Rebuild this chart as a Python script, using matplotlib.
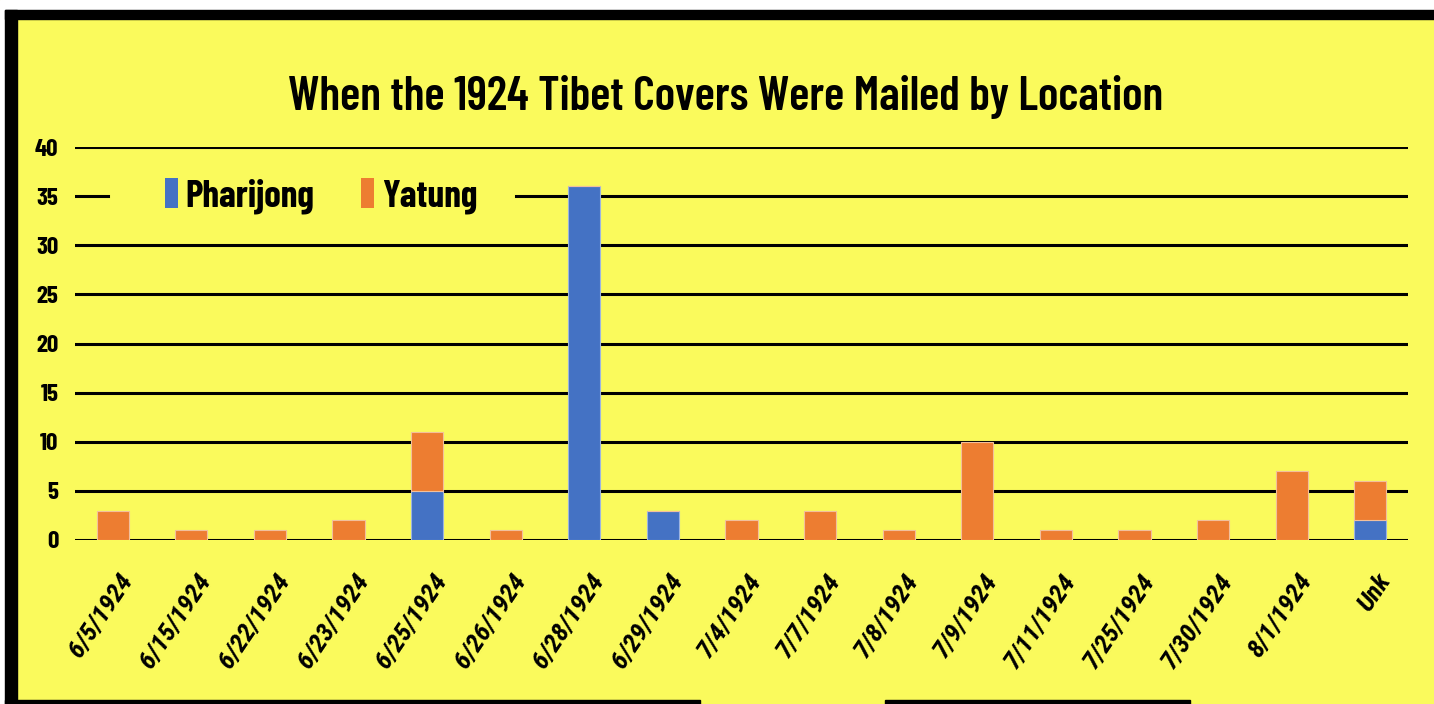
import matplotlib
matplotlib.use("Agg")
import matplotlib.pyplot as plt
import matplotlib.transforms as mtransforms
from matplotlib.patches import Rectangle
import numpy as np

# data
dates = ["6/5/1924", "6/15/1924", "6/22/1924", "6/23/1924", "6/25/1924", "6/26/1924",
         "6/28/1924", "6/29/1924", "7/4/1924", "7/7/1924", "7/8/1924", "7/9/1924",
         "7/11/1924", "7/25/1924", "7/30/1924", "8/1/1924", "Unk"]
pharijong = [0, 0, 0, 0, 5, 0, 36, 3, 0, 0, 0, 0, 0, 0, 0, 0, 2]
yatung = [3, 1, 1, 2, 6, 1, 0, 0, 2, 3, 1, 10, 1, 1, 2, 7, 4]

yellow = "#FAFA5C"
blue = "#4472C4"
orange = "#ED7D31"
fnt = ["Barlow Condensed", "Roboto Condensed", "DejaVu Sans"]
fnt_tick = ["Roboto Condensed", "DejaVu Sans"]

fig = plt.figure(figsize=(14.34, 7.04), dpi=100, facecolor=yellow)

# frame round the picture
W, H = 1434.0, 704.0
fig.patches.append(Rectangle((0, 1 - 10 / H), 1, 10 / H, transform=fig.transFigure, color="white", zorder=0))
fig.patches.append(Rectangle((0, 0), 5 / W, 1 - 10 / H, transform=fig.transFigure, color="white", zorder=0))
fig.patches.append(Rectangle((5 / W, 1 - 19 / H), 1 - 5 / W, 9 / H, transform=fig.transFigure, color="black", zorder=1))
fig.patches.append(Rectangle((5 / W, 0), 12 / W, 1 - 10 / H, transform=fig.transFigure, color="black", zorder=1))
fig.patches.append(Rectangle((5 / W, 0), 695 / W, 4 / H, transform=fig.transFigure, color="black", zorder=1))
fig.patches.append(Rectangle((885 / W, 0), 305 / W, 4 / H, transform=fig.transFigure, color="black", zorder=1))

ax = fig.add_axes([75 / W, 1 - 540 / H, 1333 / W, 393 / H])
ax.set_facecolor(yellow)
x = np.arange(len(dates))
ax.bar(x, pharijong, width=0.41, color=blue, edgecolor="#9DB4E0", lw=0.8, label="Pharijong", zorder=3)
ax.bar(x, yatung, width=0.41, bottom=pharijong, color=orange, edgecolor="#F2C09C", lw=0.8,
       label="Yatung", zorder=3)

# gridlines, the one at 35 is broken where the legend sits
for v in range(0, 45, 5):
    if v == 35:
        ax.axhline(v, xmin=0, xmax=0.025, color="black", lw=2.2, zorder=1)
        ax.axhline(v, xmin=0.331, xmax=1, color="black", lw=2.2, zorder=1)
    else:
        ax.axhline(v, color="black", lw=2.2, zorder=1)

ax.set_xlim(-0.48, len(dates) - 0.52)
ax.set_ylim(0, 40)
ax.set_yticks(range(0, 45, 5))
ax.set_yticklabels([str(v) for v in range(0, 45, 5)], fontsize=18, fontweight="bold", family=fnt)
ax.tick_params(axis="y", length=0, pad=12)
ax.tick_params(axis="x", length=0, pad=26)
ax.set_xticks(x)
ax.set_xticklabels(dates, rotation=56, ha="right", va="center", rotation_mode="anchor",
                   fontsize=19, fontweight="bold", fontstyle="italic", family=fnt_tick)
shift = mtransforms.ScaledTranslation(15 / 100, 0, fig.dpi_scale_trans)
for lab in ax.get_xticklabels():
    lab.set_transform(lab.get_transform() + shift)
for s in ax.spines.values():
    s.set_visible(False)

leg = ax.legend(loc="center left", bbox_to_anchor=(0.0675, 0.875), ncol=2, frameon=False,
                prop={"family": fnt, "weight": "bold", "size": 27},
                handlelength=0.35, handleheight=0.85, handletextpad=0.2, columnspacing=1.25,
                borderpad=0, borderaxespad=0)
for h in leg.legend_handles:
    h.set_linewidth(0)

fig.text(0.506, 0.862, "When the 1924 Tibet Covers Were Mailed by Location", ha="center", va="center",
         fontsize=34, fontweight="semibold", family=fnt)

fig.savefig("out.png", dpi=100, facecolor=yellow)
